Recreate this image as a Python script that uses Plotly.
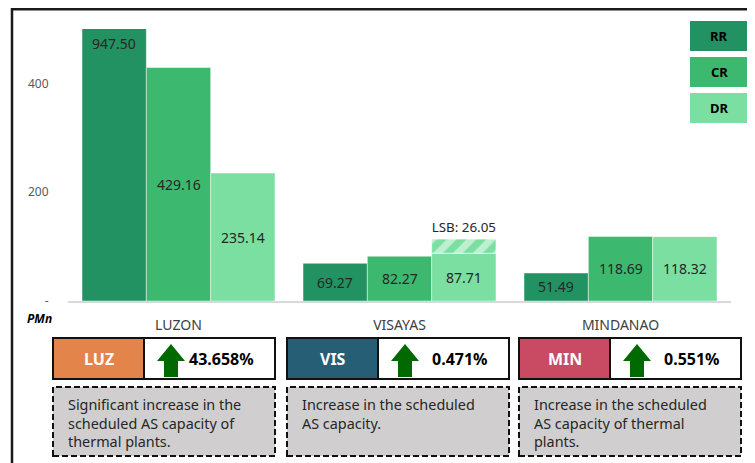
import plotly.graph_objects as go

# ---------------- data ----------------
categories = ["LUZON", "VISAYAS", "MINDANAO"]
series_names = ["RR", "CR", "DR"]
rr_values = [947.50, 69.27, 51.49]
cr_values = [429.16, 82.27, 118.69]
dr_values = [235.14, 87.71, 118.32]
lsb_category = ["VISAYAS"]
lsb_values = [26.05]
lsb_base = [87.71]
y_tick_vals = [0, 200, 400]
y_tick_text = ["-", "200", "400"]
region_codes = ["LUZ", "VIS", "MIN"]
region_changes = ["43.658%", "0.471%", "0.551%"]
region_notes = [
    "Significant increase in the<br>scheduled AS capacity of<br>thermal plants.",
    "Increase in the scheduled<br>AS capacity.",
    "Increase in the scheduled<br>AS capacity of thermal<br>plants.",
]

# ---------------- style ----------------
series_colors = ["#239262", "#3CB96E", "#7ADFA0"]
region_colors = ["#E3844A", "#255E75", "#C84B63"]
FONT = "Noto Sans"
W, H = 755, 463
OFF = 8  # page body margin offset
# plot area in screen pixels
P_LEFT, P_RIGHT, P_TOP, P_BOTTOM = 68, 731, 29, 301
ML = P_LEFT - OFF
MT = P_TOP - OFF
MR = W - (P_RIGHT - OFF)
MB = H - (P_BOTTOM - OFF)
PW = P_RIGHT - P_LEFT
PH = P_BOTTOM - P_TOP
BAR_STEP = 64.5


def px(x):
    return (x - P_LEFT) / PW


def py(y):
    return (P_BOTTOM - y) / PH


fig = go.Figure()
all_vals = [rr_values, cr_values, dr_values]
for name, vals, col in zip(series_names, all_vals, series_colors):
    fig.add_trace(go.Bar(
        x=categories, y=vals, name=name, offsetgroup=name,
        marker=dict(color=col, line=dict(color="rgba(255,255,255,0.45)", width=1)),
        showlegend=False, cliponaxis=True, hoverinfo="x+y+name",
    ))

fig.add_trace(go.Bar(
    x=lsb_category, y=lsb_values, base=lsb_base, offsetgroup="DR",
    marker=dict(color=series_colors[2],
                line=dict(color="rgba(255,255,255,0.6)", width=1),
                pattern=dict(shape="/", fgcolor="white", bgcolor=series_colors[2],
                             size=14, solidity=0.5)),
    text=[f"LSB: {v:.2f}" for v in lsb_values], textposition="outside",
    textangle=0,
    textfont=dict(family=FONT, size=14, color="#262626"),
    showlegend=False, cliponaxis=False,
))

shapes = []
annotations = []

# value labels, centred on the (full) bar
for si, vals in enumerate(all_vals):
    for cat, v in zip(categories, vals):
        annotations.append(dict(
            xref="x", yref="y", x=cat, y=v / 2, xshift=(si - 1) * BAR_STEP,
            text=f"{v:.2f}", showarrow=False, xanchor="center", yanchor="middle",
            font=dict(family=FONT, size=14, color="#262626")))

# outer frame
shapes.append(dict(type="path", xref="paper", yref="paper",
                   path=f"M {px(12)},{py(480)} L {px(12)},{py(9.2)} L {px(780)},{py(9.2)}",
                   line=dict(color="#1A1A1A", width=2.5)))

# legend boxes
leg_tops = [21, 57, 93]
for name, col, t in zip(series_names, series_colors, leg_tops):
    shapes.append(dict(type="rect", xref="paper", yref="paper",
                       x0=px(690), x1=px(748), y0=py(t), y1=py(t + 30),
                       fillcolor=col, line=dict(width=0)))
    annotations.append(dict(xref="paper", yref="paper", x=px(719), y=py(t + 15),
                            xanchor="center", yanchor="middle",
                            text=f"<b>{name}</b>", showarrow=False,
                            font=dict(family=FONT, size=13, color="black")))

# PMn label
annotations.append(dict(xref="paper", yref="paper", x=px(39), y=py(318),
                        xanchor="center", yanchor="middle",
                        text="<b><i>PMn</i></b>", showarrow=False,
                        font=dict(family=FONT, size=12, color="black")))

# region boxes
box_lefts = [53, 287, 519]
for code, chg, note, col, L in zip(region_codes, region_changes, region_notes,
                                   region_colors, box_lefts):
    mid = L + 91
    R = L + 222
    shapes.append(dict(type="rect", xref="paper", yref="paper",
                       x0=px(L), x1=px(mid), y0=py(379), y1=py(338),
                       fillcolor=col, line=dict(color="#111111", width=2)))
    shapes.append(dict(type="rect", xref="paper", yref="paper",
                       x0=px(mid), x1=px(R), y0=py(379), y1=py(338),
                       fillcolor="white", line=dict(color="#111111", width=2)))
    annotations.append(dict(xref="paper", yref="paper", x=px((L + mid) / 2), y=py(358.5),
                            xanchor="center", yanchor="middle",
                            text=f"<b>{code}</b>", showarrow=False,
                            font=dict(family=FONT, size=16, color="white")))
    # arrow
    a0 = mid + 13
    aw = 28
    path = (f"M {px(a0)},{py(361)} L {px(a0 + aw / 2)},{py(344)} L {px(a0 + aw)},{py(361)} "
            f"L {px(a0 + 21)},{py(361)} L {px(a0 + 21)},{py(377)} L {px(a0 + 7)},{py(377)} "
            f"L {px(a0 + 7)},{py(361)} Z")
    shapes.append(dict(type="path", xref="paper", yref="paper", path=path,
                       fillcolor="#006A00", line=dict(width=0)))
    annotations.append(dict(xref="paper", yref="paper", x=px(R - 19), y=py(358.5),
                            xanchor="right", yanchor="middle",
                            text=f"<b>{chg}</b>", showarrow=False,
                            font=dict(family=FONT, size=16, color="black")))
    # dashed note box
    shapes.append(dict(type="rect", xref="paper", yref="paper",
                       x0=px(L), x1=px(R), y0=py(456), y1=py(387),
                       fillcolor="#D0CECE",
                       line=dict(color="#111111", width=2, dash="6px,3px")))
    annotations.append(dict(xref="paper", yref="paper", x=px(L + 13), y=py(392.5),
                            xanchor="left", yanchor="top", align="left",
                            text=note, showarrow=False,
                            font=dict(family=FONT, size=14.4, color="#262626")))

fig.update_layout(
    width=W, height=H, autosize=False,
    margin=dict(l=ML, r=MR, t=MT, b=MB, pad=0),
    paper_bgcolor="white", plot_bgcolor="white",
    barmode="group", bargap=0.127, bargroupgap=0,
    font=dict(family=FONT),
    shapes=shapes, annotations=annotations,
)
fig.update_xaxes(
    categoryorder="array", categoryarray=categories,
    showline=True, linecolor="#D9D9D9", linewidth=2,
    ticks="outside", ticklen=10, tickcolor="rgba(0,0,0,0)",
    tickfont=dict(family=FONT, size=14, color="#404040"),
    showgrid=False, zeroline=False, fixedrange=True, automargin=False,
)
fig.update_yaxes(
    range=[0, 500], tickvals=y_tick_vals, ticktext=y_tick_text,
    ticks="outside", ticklen=16, tickcolor="rgba(0,0,0,0)",
    tickfont=dict(family=FONT, size=12, color="#595959"),
    showgrid=False, zeroline=False, showline=False, fixedrange=True, automargin=False,
)

fig.write_html("out.html")
